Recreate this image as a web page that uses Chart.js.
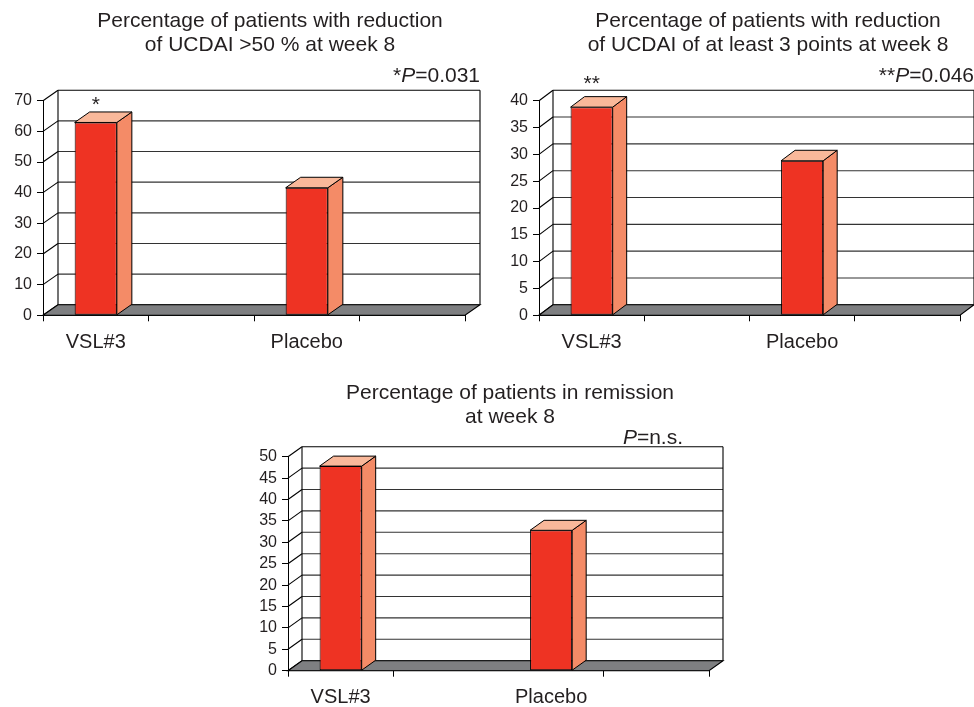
<!DOCTYPE html>
<html>
<head>
<meta charset="utf-8">
<script src="https://cdn.jsdelivr.net/npm/chart.js@4.4.1/dist/chart.umd.min.js"></script>
<style>
  body { margin: 0; background: #fff; }
  .box { position: absolute; }
  #c1box { left: 0; top: 0; }
  #c2box { left: 487px; top: 0; }
  #c3box { left: 240px; top: 360px; }
</style>
</head>
<body>
<div class="box" id="c1box"><canvas id="chart1" width="487" height="360"></canvas></div>
<div class="box" id="c2box"><canvas id="chart2" width="487" height="360"></canvas></div>
<div class="box" id="c3box"><canvas id="chart3" width="500" height="347"></canvas></div>
<script>
const categories = ['VSL#3', '', 'Placebo', ''];
const ucdai50Values = [62.9, null, 41.6, null];
const ucdai3Values = [38.8, null, 28.8, null];
const remissionValues = [47.8, null, 32.8, null];
const ucdai50Ticks = [0, 10, 20, 30, 40, 50, 60, 70];
const ucdai3Ticks = [0, 5, 10, 15, 20, 25, 30, 35, 40];
const remissionTicks = [0, 5, 10, 15, 20, 25, 30, 35, 40, 45, 50];

const FONT = "'Liberation Sans', Arial, sans-serif";
const frontColor = '#ee3323';
const sideColor = '#f48b67';
const topColor = '#f9b89a';
const floorColor = '#7e7f81';

// draws the box walls, floor, bar sides/tops and the free texts
const box3d = {
  id: 'box3d',
  beforeDatasetsDraw(chart, args, opts) {
    const ctx = chart.ctx;
    const a = chart.chartArea;
    const y = chart.scales.y;
    const dx = opts.dx, dy = opts.dy;
    const tickVals = y.ticks.map(t => t.value);
    const top = tickVals[tickVals.length - 1];
    ctx.save();
    ctx.lineWidth = 1.1;
    // back wall grid lines and side wall diagonals
    tickVals.forEach(v => {
      const py = y.getPixelForValue(v);
      ctx.strokeStyle = v === top ? '#000' : '#333';
      ctx.beginPath();
      ctx.moveTo(a.left + dx, py - dy);
      ctx.lineTo(a.right + dx, py - dy);
      ctx.stroke();
      ctx.strokeStyle = '#000';
      ctx.beginPath();
      ctx.moveTo(a.left, py);
      ctx.lineTo(a.left + dx, py - dy);
      ctx.stroke();
    });
    ctx.strokeStyle = '#000';
    ctx.beginPath();
    ctx.moveTo(a.left + dx, a.bottom - dy);
    ctx.lineTo(a.left + dx, a.top - dy);
    ctx.moveTo(a.right + dx, a.bottom - dy);
    ctx.lineTo(a.right + dx, a.top - dy);
    ctx.stroke();
    // floor
    ctx.fillStyle = floorColor;
    ctx.beginPath();
    ctx.moveTo(a.left, a.bottom);
    ctx.lineTo(a.right, a.bottom);
    ctx.lineTo(a.right + dx, a.bottom - dy);
    ctx.lineTo(a.left + dx, a.bottom - dy);
    ctx.closePath();
    ctx.fill();
    ctx.stroke();
    ctx.restore();
  },
  afterDatasetsDraw(chart, args, opts) {
    const ctx = chart.ctx;
    const dx = opts.dx, dy = opts.dy;
    ctx.save();
    ctx.lineWidth = 1;
    ctx.strokeStyle = '#000';
    chart.getDatasetMeta(0).data.forEach((bar, i) => {
      if (chart.data.datasets[0].data[i] == null) return;
      const p = bar.getProps(['x', 'y', 'base', 'width'], true);
      const l = p.x - p.width / 2, r = p.x + p.width / 2;
      ctx.fillStyle = sideColor;
      ctx.beginPath();
      ctx.moveTo(r, p.y);
      ctx.lineTo(r + dx, p.y - dy);
      ctx.lineTo(r + dx, p.base - dy);
      ctx.lineTo(r, p.base);
      ctx.closePath();
      ctx.fill();
      ctx.stroke();
      ctx.fillStyle = topColor;
      ctx.beginPath();
      ctx.moveTo(l, p.y);
      ctx.lineTo(l + dx, p.y - dy);
      ctx.lineTo(r + dx, p.y - dy);
      ctx.lineTo(r, p.y);
      ctx.closePath();
      ctx.fill();
      ctx.stroke();
    });
    ctx.restore();
  },
  afterDraw(chart, args, opts) {
    const ctx = chart.ctx;
    ctx.save();
    ctx.fillStyle = '#231f20';
    ctx.textBaseline = 'alphabetic';
    ctx.font = '21px ' + FONT;
    ctx.textAlign = 'center';
    ctx.fillText(opts.title1, opts.titleX, opts.titleY);
    ctx.fillText(opts.title2, opts.titleX, opts.titleY + 24);
    // p value: star prefix, italic P, rest
    const parts = [
      { t: opts.pStar, f: '21px ' + FONT },
      { t: 'P', f: 'italic 21px ' + FONT },
      { t: opts.pRest, f: '21px ' + FONT }
    ];
    let w = 0;
    parts.forEach(s => { ctx.font = s.f; w += ctx.measureText(s.t).width; });
    let x = opts.pRight - w;
    ctx.textAlign = 'left';
    parts.forEach(s => { ctx.font = s.f; ctx.fillText(s.t, x, opts.pY); x += ctx.measureText(s.t).width; });
    if (opts.mark) {
      ctx.font = '21px ' + FONT;
      ctx.textAlign = 'center';
      const bar = chart.getDatasetMeta(0).data[0];
      ctx.fillText(opts.mark, bar.x, opts.markY);
    }
    ctx.restore();
  }
};

function makeChart(id, values, ticks, pad, yWidth, xHeight, hideMidTick, p3d) {
  const maxV = ticks[ticks.length - 1];
  return new Chart(document.getElementById(id), {
    type: 'bar',
    data: {
      labels: categories,
      datasets: [{
        data: values,
        backgroundColor: frontColor,
        borderColor: '#000',
        borderWidth: 1,
        borderSkipped: false,
        barPercentage: 0.4,
        categoryPercentage: 1
      }]
    },
    options: {
      responsive: false,
      animation: false,
      layout: { padding: pad },
      plugins: { legend: { display: false }, tooltip: { enabled: false }, box3d: p3d },
      scales: {
        x: {
          afterFit: s => { s.height = xHeight; },
          grid: {
            drawOnChartArea: false, drawTicks: true, tickLength: 6, offset: true,
            color: c => (hideMidTick && c.index === 2) ? 'rgba(0,0,0,0)' : '#000'
          },
          border: { display: true, color: '#000' },
          ticks: { color: '#231f20', font: { family: FONT, size: 20 }, padding: 9, maxRotation: 0 }
        },
        y: {
          min: 0, max: maxV,
          afterFit: s => { s.width = yWidth; },
          afterBuildTicks: s => { s.ticks = ticks.map(v => ({ value: v })); },
          grid: { drawOnChartArea: false, drawTicks: true, tickLength: 6, color: '#000' },
          border: { display: true, color: '#000' },
          ticks: { color: '#231f20', font: { family: FONT, size: 16 }, padding: 5, autoSkip: false }
        }
      }
    },
    plugins: [box3d]
  });
}

makeChart('chart1', ucdai50Values, ucdai50Ticks,
  { top: 100.7, right: 22, left: 0, bottom: 0 }, 43, 44.7, false,
  { dx: 15, dy: 10.5, title1: 'Percentage of patients with reduction', title2: 'of UCDAI >50 % at week 8',
    titleX: 270, titleY: 27, pStar: '*', pRest: '=0.031', pRight: 480, pY: 82, mark: '*', markY: 111 });

makeChart('chart2', ucdai3Values, ucdai3Ticks,
  { top: 100.7, right: 14, left: 0, bottom: 0 }, 52, 44.7, false,
  { dx: 14, dy: 10.5, title1: 'Percentage of patients with reduction', title2: 'of UCDAI of at least 3 points at week 8',
    titleX: 281, titleY: 27, pStar: '**', pRest: '=0.046', pRight: 487, pY: 82, mark: '**', markY: 90 });

makeChart('chart3', remissionValues, remissionTicks,
  { top: 96.7, right: 31, left: 0, bottom: 0 }, 48, 36.3, true,
  { dx: 14, dy: 10, title1: 'Percentage of patients in remission', title2: 'at week 8',
    titleX: 270, titleY: 39, pStar: '', pRest: '=n.s.', pRight: 443, pY: 84, mark: '' });
</script>
</body>
</html>
